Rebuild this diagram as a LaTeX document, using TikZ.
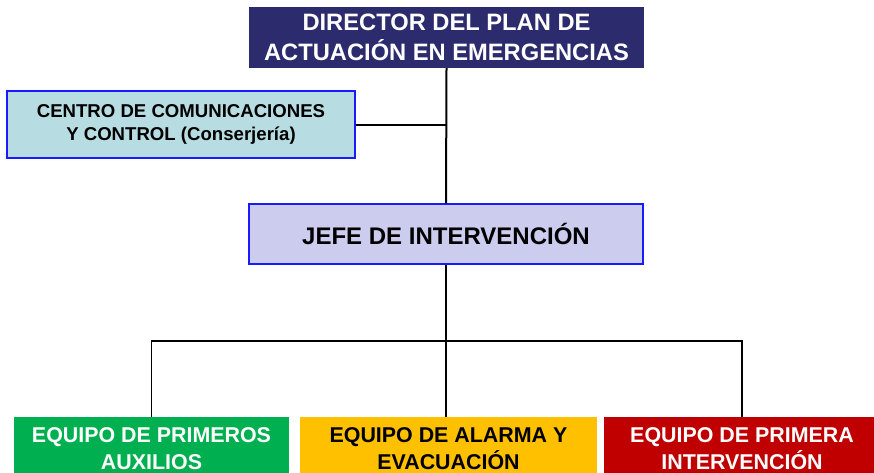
\documentclass[tikz,border=0pt]{standalone}
\usepackage{fontspec}
\setmainfont{Liberation Sans}
\definecolor{navy}{HTML}{2C2B6E}
\definecolor{cyanbox}{HTML}{B7DDE2}
\definecolor{lavbox}{HTML}{CCCCEE}
\definecolor{bordblue}{HTML}{1A1AFF}
\definecolor{eqgreen}{HTML}{00B050}
\definecolor{eqyellow}{HTML}{FFC000}
\definecolor{eqred}{HTML}{C00000}
\begin{document}
\begin{tikzpicture}[x=1pt,y=-1pt,
  box/.style={rectangle,inner sep=0pt,align=center,font=\bfseries},
  topline/.style={line width=2pt,black},
  botline/.style={line width=1.5pt,black}]
\useasboundingbox (0,0) rectangle (874,472);
\clip (0,0) rectangle (874,472);
\fill[white] (0,0) rectangle (874,472);
\node[box,fill=navy,text=white,minimum width=395pt,minimum height=61pt,
  font=\bfseries\fontsize{23.7}{30}\selectfont] (dir) at (446.5,37.5)
  {DIRECTOR DEL PLAN DE\\ACTUACIÓN EN EMERGENCIAS};
\node[box,fill=cyanbox,draw=bordblue,line width=1.2pt,minimum width=348pt,minimum height=67pt,
  font=\bfseries\fontsize{18.6}{23}\selectfont] (cen) at (181,124.5)
  {CENTRO DE COMUNICACIONES\\Y CONTROL (Conserjería)};
\node[box,fill=lavbox,draw=bordblue,line width=1.2pt,minimum width=394pt,minimum height=60pt,
  font=\bfseries\fontsize{24}{28}\selectfont] (jefe) at (446,234)
  {JEFE DE INTERVENCIÓN};
\node[box,fill=eqgreen,text=white,minimum width=275pt,minimum height=64pt,
  font=\bfseries\fontsize{21.4}{27}\selectfont] (eq1) at (151.5,449)
  {EQUIPO DE PRIMEROS\\AUXILIOS};
\node[box,fill=eqyellow,text=black,minimum width=297pt,minimum height=64pt,
  font=\bfseries\fontsize{21.4}{27}\selectfont] (eq2) at (448.5,449)
  {EQUIPO DE ALARMA Y\\EVACUACIÓN};
\node[box,fill=eqred,text=white,minimum width=276pt,minimum height=64pt,
  font=\bfseries\fontsize{21.4}{27}\selectfont] (eq3) at (742,449)
  {EQUIPO DE PRIMERA\\INTERVENCIÓN};
\coordinate (bus) at (447,341);
\draw[topline] (dir.south) -- (jefe.north);
\draw[topline] (cen.east) -- (cen.east -| dir.south);
\draw[botline] (jefe.south) -- (jefe.south |- eq2.north);
\draw[botline] (eq1.north) |- (bus) -| (eq3.north);
\end{tikzpicture}
\end{document}
